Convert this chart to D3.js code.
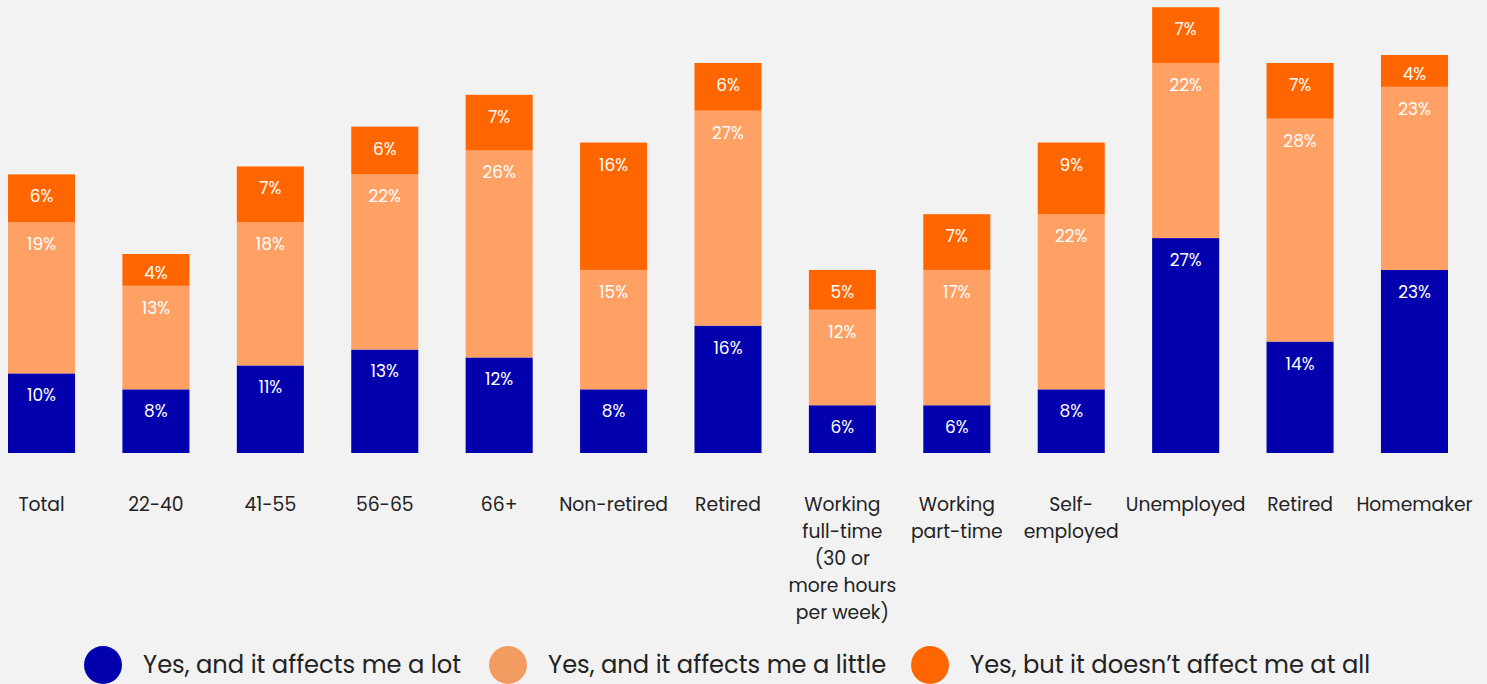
<!DOCTYPE html>
<html>
<head>
<meta charset="utf-8">
<script src="https://cdn.jsdelivr.net/npm/d3@7"></script>
<style>
  html, body { margin: 0; padding: 0; background: #f2f2f2; }
  svg { display: block; font-family: Poppins, "Inter", "Noto Sans", sans-serif; }
</style>
</head>
<body>
<svg id="chart" width="1487" height="684"></svg>
<script>
// Groups along the x axis (label lines split with "\n")
const categories = [
  "Total", "22-40", "41-55", "56-65", "66+", "Non-retired", "Retired",
  "Working\nfull-time\n(30 or\nmore hours\nper week)", "Working\npart-time",
  "Self-\nemployed", "Unemployed", "Retired", "Homemaker"
];

// Share of respondents per answer (%)
const affectsLot    = [10, 8, 11, 13, 12, 8, 16, 6, 6, 8, 27, 14, 23];
const affectsLittle = [19, 13, 18, 22, 26, 15, 27, 12, 17, 22, 22, 28, 23];
const notAffected   = [6, 4, 7, 6, 7, 16, 6, 5, 7, 9, 7, 7, 4];

const seriesNames = [
  "Yes, and it affects me a lot",
  "Yes, and it affects me a little",
  "Yes, but it doesn\u2019t affect me at all"
];
const barColors    = ["#0300ad", "#ffa064", "#ff6600"];
const legendColors = ["#0300ad", "#f39c62", "#ff6600"];

const svg = d3.select("#chart");
const baseY = 453;

const x = d3.scaleBand()
  .domain(d3.range(categories.length))
  .range([8, 1448])
  .paddingInner(0.414)
  .paddingOuter(0);

const y = d3.scaleLinear().domain([0, 100]).range([baseY, baseY - 796]);

const rows = categories.map((c, i) => ({
  idx: i, lot: affectsLot[i], little: affectsLittle[i], none: notAffected[i]
}));
const stacked = d3.stack().keys(["lot", "little", "none"])(rows);

const layers = svg.selectAll("g.layer")
  .data(stacked)
  .join("g")
  .attr("class", "layer")
  .attr("fill", (d, i) => barColors[i]);

layers.selectAll("rect")
  .data(d => d)
  .join("rect")
  .attr("x", d => x(d.data.idx))
  .attr("y", d => y(d[1]))
  .attr("width", x.bandwidth())
  .attr("height", d => y(d[0]) - y(d[1]));

// value labels near the top of each segment
layers.selectAll("text")
  .data(d => d)
  .join("text")
  .attr("x", d => x(d.data.idx) + x.bandwidth() / 2)
  .attr("y", d => {
    const h = y(d[0]) - y(d[1]);
    return y(d[1]) + Math.min(22, h / 2 + 3);
  })
  .attr("dy", "0.35em")
  .attr("text-anchor", "middle")
  .attr("fill", "#ffffff")
  .attr("font-size", 17)
  .text(d => (d[1] - d[0]) + "%");

// category labels
const catG = svg.append("g");
categories.forEach((c, i) => {
  const cx = x(i) + x.bandwidth() / 2;
  const t = catG.append("text")
    .attr("x", cx)
    .attr("y", 511)
    .attr("text-anchor", "middle")
    .attr("fill", "#222222")
    .attr("font-size", 18.75);
  c.split("\n").forEach((line, j) => {
    t.append("tspan")
      .attr("x", cx)
      .attr("dy", j === 0 ? 0 : 27)
      .text(line);
  });
});

// legend
const legendX = [103, 508, 930];
const legend = svg.append("g");
seriesNames.forEach((name, i) => {
  legend.append("circle")
    .attr("cx", legendX[i])
    .attr("cy", 665)
    .attr("r", 19)
    .attr("fill", legendColors[i]);
  legend.append("text")
    .attr("x", legendX[i] + 40)
    .attr("y", 665)
    .attr("dy", "0.35em")
    .attr("fill", "#222222")
    .attr("font-size", 24.2)
    .text(name);
});
</script>
</body>
</html>
